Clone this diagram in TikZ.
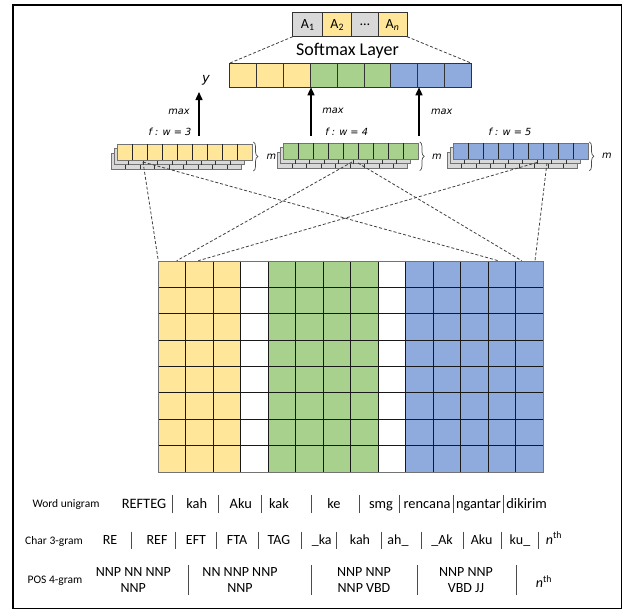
\documentclass[tikz,border=0pt]{standalone}
\usepackage{fontspec}
\setmainfont{Carlito}
\newfontfamily\notefont{DejaVu Sans}
\usetikzlibrary{calc,arrows.meta,decorations.pathreplacing}

\definecolor{cyel}{HTML}{FFE699}
\definecolor{cgrn}{HTML}{A9D18E}
\definecolor{cblu}{HTML}{8FAADC}
\definecolor{cgry}{HTML}{D9D9D9}

% filter stack: name, x, y (top left of the front row), fill colour
\newcommand\filterstack[4]{%
  \foreach \k in {2,1}{%
    \fill[cgry, draw=black!55, line width=0.7pt] ({#2-3*\k},{#3+4.5*\k}) rectangle ++(130,16);
    \foreach \j in {1,...,8}
      \draw[black!80, line width=0.6pt] ({#2-3*\k+\j*130/9},{#3+4.5*\k}) -- ++(0,16);
  }
  \node[stackrow, fill=#4, draw=black!55] (#1) at (#2,#3) {};
  \foreach \j in {1,...,8}
    \draw[black!85, line width=0.7pt] ($(#1.north west)+(\j*15,0)$) -- ($(#1.south west)+(\j*15,0)$);
}

\begin{document}
\begin{tikzpicture}[x=1pt,y=-1pt,
  cellbox/.style={draw=black!80, line width=0.8pt, inner sep=0pt, outer sep=0pt, anchor=north west},
  stackrow/.style={inner sep=0pt, outer sep=0pt, anchor=north west, minimum width=135pt, minimum height=16pt, line width=0.8pt},
  dashline/.style={black!75, line width=0.8pt, dash pattern=on 3pt off 2pt},
  uparrow/.style={line width=1.4pt, -{Triangle[length=8pt,width=7pt]}},
  note/.style={font=\notefont\itshape\fontsize{9.8}{11}\selectfont, inner sep=0pt},
  gridline/.style={black!90, line width=0.8pt},
  bracem/.style={decorate, decoration={brace, amplitude=4.5pt}, line width=0.7pt, black!70},
  rowlabel/.style={font=\fontsize{11.5}{13}\selectfont, inner sep=0pt, anchor=base},
  wordA/.style={font=\fontsize{14.4}{17}\selectfont, inner sep=0pt, anchor=base},
  wordB/.style={font=\fontsize{14}{16.6}\selectfont, inner sep=0pt, anchor=base},
  wordC/.style={font=\fontsize{14}{16.6}\selectfont, inner sep=0pt, align=center},
  sepline/.style={black!70, line width=0.7pt},
]
\useasboundingbox (0,0) rectangle (624,611);

% outer frame
\draw[line width=1.6pt] (13,5) rectangle (621.5,608.5);

% output classes
\node[cellbox, fill=cgry, minimum width=30pt, minimum height=24pt, font=\fontsize{14}{16}\selectfont] (a1) at (292.7,12.7) {A\textsubscript{1}};
\node[cellbox, fill=cyel, minimum width=29pt, minimum height=24pt, font=\fontsize{14}{16}\selectfont] (a2) at (a1.north east) {A\textsubscript{2}};
\node[cellbox, fill=cgry, minimum width=26.3pt, minimum height=24pt, font=\fontsize{14}{16}\selectfont] (a3) at (a2.north east) {\ldots};
\node[cellbox, fill=cyel, minimum width=29pt, minimum height=24pt, font=\fontsize{14}{16}\selectfont] (an) at (a3.north east) {A\textsubscript{\itshape n}};

\node[font=\fontsize{18}{20}\selectfont, inner sep=0pt, anchor=base] (smlabel) at (347.5,55) {Softmax Layer};

% concatenated feature vector
\foreach \i/\c in {1/cyel,2/cyel,3/cyel,4/cgrn,5/cgrn,6/cgrn,7/cblu,8/cblu,9/cblu}
  \node[cellbox, fill=\c, minimum width=26.93pt, minimum height=24pt] (sm\i) at ({229.3+(\i-1)*26.93},63.3) {};

\draw[dashline] (a1.south west) -- (sm1.north west);
\draw[dashline] (an.south east) -- (sm9.north east);

% max pooling arrows
\coordinate (ar1) at (199,136);
\coordinate (ar1top) at (199,92);
\coordinate (ar2) at (311,136);
\coordinate (ar3) at (419,136);
\draw[uparrow] (ar1) -- (ar1top);
\draw[uparrow] (ar2) -- (ar2 |- sm4.south);
\draw[uparrow] (ar3) -- (ar3 |- sm8.south);

\node[font=\notefont\itshape\fontsize{13}{15}\selectfont, inner sep=0pt] (ylab) at (206,80) {y};
\node[note] (max1) at (179,111.7) {max};
\node[note] (max2) at (333,110.5) {max};
\node[note] (max3) at (441.7,111.7) {max};
\node[note] (f1) at (170,131.7) {f : w = 3};
\node[note] (f2) at (346.7,131.7) {f : w = 4};
\node[note] (f3) at (510,131.7) {f : w = 5};

% convolution filter stacks
\filterstack{st1}{117.3}{144}{cyel}
\filterstack{st2}{283.7}{143.3}{cgrn}
\filterstack{st3}{453.3}{143.3}{cblu}

\draw[bracem] ($(st1.north east)+(1,-2)$) -- ($(st1.north east)+(1,27)$);
\draw[bracem] ($(st2.north east)+(1,-1.5)$) -- ($(st2.north east)+(1,27.5)$);
\draw[bracem] ($(st3.north east)+(1,-1.5)$) -- ($(st3.north east)+(1,27.5)$);
\node[note] (m1) at ($(st1.east)+(19,4.5)$) {m};
\node[note] (m2) at ($(st2.east)+(18.3,5)$) {m};
\node[note] (m3) at ($(st3.east)+(18.7,4)$) {m};

% input feature matrix
\foreach \c/\col in {0/cyel,1/cyel,2/cyel,4/cgrn,5/cgrn,6/cgrn,7/cgrn,9/cblu,10/cblu,11/cblu,12/cblu,13/cblu}
  \fill[\col] ({158.3+\c*27.5},260.7) rectangle ++(27.5,211.2);
\foreach \c in {1,...,13}
  \draw[gridline] ({158.3+\c*27.5},260.7) -- ++(0,211.2);
\foreach \r in {1,...,7}
  \draw[gridline] (158.3,{260.7+\r*26.4}) -- ++(385,0);
\node[draw=black!55, line width=1pt, minimum width=385pt, minimum height=211.2pt, inner sep=0pt, anchor=north west] (grid) at (158.3,260.7) {};

% receptive fields of the filters
\draw[dashline] ($(st1.north west)+(25.7,18)$) -- (grid.north west);
\draw[dashline] ($(st1.north west)+(25.7,18)$) -- ($(grid.north west)+(340,0)$);
\draw[dashline] ($(st2.north west)+(68.3,18.7)$) -- ($(grid.north west)+(18.4,0)$);
\draw[dashline] ($(st2.north west)+(74.3,19.7)$) -- ($(grid.north west)+(363.4,0)$);
\draw[dashline] ($(st3.north west)+(83.7,19.2)$) -- ($(grid.north west)+(40,0)$);
\draw[dashline] ($(st3.north west)+(93.7,19.7)$) -- ($(grid.north west)+(376.7,0)$);

% word unigrams
\node[rowlabel] (lw) at (66,507.5) {Word unigram};
\foreach \x/\t [count=\n] in {144/REFTEG,196.7/kah,240.8/Aku,279/kak,334/ke,381/smg,427/rencana,478.5/ngantar,526.7/dikirim}
  \node[wordA] (w\n) at (\x,508) {\t};
\foreach \x in {172,218.3,261.7,311.7,359.3,399.3,453.3,503.3}
  \draw[sepline] (\x,495) -- (\x,513);

% character trigrams
\node[rowlabel] (lc) at (54,544) {Char 3-gram};
\foreach \x/\t [count=\n] in {110/RE,157/REF,196/EFT,237/FTA,279/TAG,321.7/\_ka,360/kah,398/ah\_,442/\_Ak,481.7/Aku,520/ku\_}
  \node[wordB] (c\n) at (\x,544) {\t};
\node[wordB] (cn) at (554,544) {{\itshape n}\textsuperscript{th}};
\foreach \x in {131,175,216,258,301.7,336.7,381.7,421.7,463.3,501.7,538.3}
  \draw[sepline] (\x,531.5) -- (\x,548.5);

% POS 4-grams
\node[rowlabel] (lp) at (55,583.7) {POS 4-gram};
\node[wordC] (p1) at (133.3,580) {NNP NN NNP\\NNP};
\node[wordC] (p2) at (240,580) {NN NNP NNP\\NNP};
\node[wordC] (p3) at (364,580) {NNP NNP\\NNP VBD};
\node[wordC] (p4) at (466,580) {NNP NNP\\VBD JJ};
\node[wordC] (pn) at (544,581.5) {{\itshape n}\textsuperscript{th}};
\foreach \x in {188,311.7,417.3,516.7}
  \draw[sepline] (\x,565) -- (\x,595);
\end{tikzpicture}
\end{document}
